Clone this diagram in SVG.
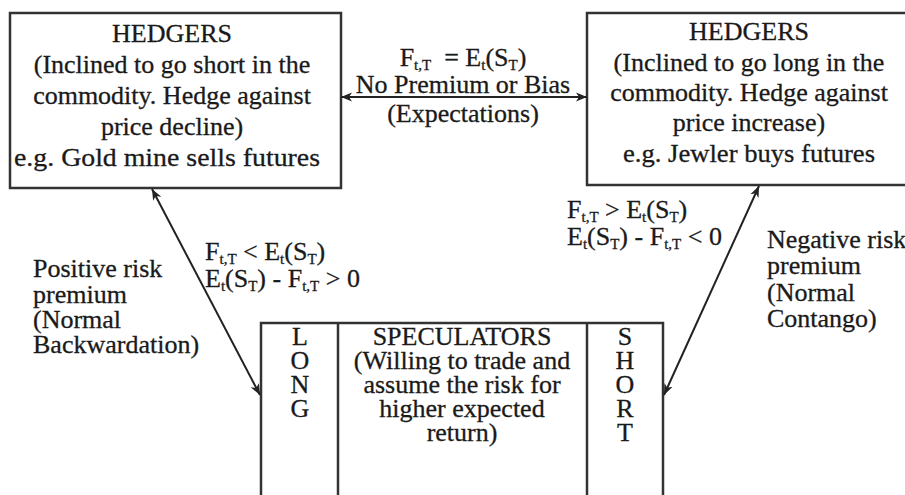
<svg xmlns="http://www.w3.org/2000/svg" width="905" height="495" viewBox="0 0 905 495">
<defs>
<marker id="ah" markerWidth="12" markerHeight="10" refX="11" refY="5" orient="auto-start-reverse" markerUnits="userSpaceOnUse">
<path d="M0,0.5 L11,5 L0,9.5 L3,5 Z" fill="#222"/>
</marker>
<style>
.box{fill:#fff;stroke:#333;stroke-width:2.5}
.t{font-family:"Liberation Serif","Times New Roman",serif;font-size:26px;fill:#1a1a1a;stroke:#1a1a1a;stroke-width:0.3}
.c{text-anchor:middle}
.s{font-size:15px}
.div{stroke:#333;stroke-width:2.5}
.conn{stroke:#222;stroke-width:2;fill:none;marker-start:url(#ah);marker-end:url(#ah)}
</style>
</defs>
<rect width="905" height="495" fill="#fff"/>

<g id="hedgers-short">
<rect class="box" x="10" y="13" width="331" height="175"/>
<text class="t c" x="172" y="42">HEDGERS</text>
<text class="t c" x="172" y="73">(Inclined to go short in the</text>
<text class="t c" x="172" y="104">commodity. Hedge against</text>
<text class="t c" x="172" y="135">price decline)</text>
<text class="t c" x="167" y="166" textLength="306" lengthAdjust="spacingAndGlyphs">e.g. Gold mine sells futures</text>
</g>

<g id="hedgers-long">
<rect class="box" x="587" y="13" width="330" height="172"/>
<text class="t c" x="749" y="40">HEDGERS</text>
<text class="t c" x="749" y="71">(Inclined to go long in the</text>
<text class="t c" x="749" y="101">commodity. Hedge against</text>
<text class="t c" x="749" y="131">price increase)</text>
<text class="t c" x="749" y="162" textLength="252" lengthAdjust="spacingAndGlyphs">e.g. Jewler buys futures</text>
</g>

<g id="speculators">
<rect class="box" x="261" y="323" width="402" height="180"/>
<line class="div" x1="338" y1="323" x2="338" y2="500"/>
<line class="div" x1="587" y1="323" x2="587" y2="500"/>
<text class="t c" x="300" y="345">L</text>
<text class="t c" x="300" y="369">O</text>
<text class="t c" x="300" y="393">N</text>
<text class="t c" x="300" y="417">G</text>
<text class="t c" x="462" y="345">SPECULATORS</text>
<text class="t c" x="462" y="369">(Willing to trade and</text>
<text class="t c" x="462" y="393">assume the risk for</text>
<text class="t c" x="462" y="417">higher expected</text>
<text class="t c" x="462" y="441">return)</text>
<text class="t c" x="625" y="345">S</text>
<text class="t c" x="625" y="369">H</text>
<text class="t c" x="625" y="393">O</text>
<text class="t c" x="625" y="417">R</text>
<text class="t c" x="625" y="441">T</text>
</g>

<g id="connectors">
<line class="conn" x1="341" y1="97" x2="587" y2="97"/>
<line class="conn" x1="152" y1="189" x2="260" y2="395"/>
<line class="conn" x1="759" y1="186" x2="664" y2="395"/>
</g>

<g id="label-expectations">
<text class="t c" x="463" y="66" xml:space="preserve">F<tspan class="s" dy="4">t,T</tspan><tspan dy="-4">  = E</tspan><tspan class="s" dy="4">t</tspan><tspan dy="-4">(S</tspan><tspan class="s" dy="4">T</tspan><tspan dy="-4">)</tspan></text>
<text class="t c" x="463" y="93">No Premium or Bias</text>
<text class="t c" x="463" y="122">(Expectations)</text>
</g>

<g id="label-backwardation">
<text class="t" x="205" y="260">F<tspan class="s" dy="4">t,T</tspan><tspan dy="-4"> &lt; E</tspan><tspan class="s" dy="4">t</tspan><tspan dy="-4">(S</tspan><tspan class="s" dy="4">T</tspan><tspan dy="-4">)</tspan></text>
<text class="t" x="205" y="287">E<tspan class="s" dy="4">t</tspan><tspan dy="-4">(S</tspan><tspan class="s" dy="4">T</tspan><tspan dy="-4">) - F</tspan><tspan class="s" dy="4">t,T</tspan><tspan dy="-4"> &gt; 0</tspan></text>
<text class="t" x="33" y="277">Positive risk</text>
<text class="t" x="33" y="303">premium</text>
<text class="t" x="33" y="328">(Normal</text>
<text class="t" x="33" y="353">Backwardation)</text>
</g>

<g id="label-contango">
<text class="t" x="567" y="218">F<tspan class="s" dy="4">t,T</tspan><tspan dy="-4"> &gt; E</tspan><tspan class="s" dy="4">t</tspan><tspan dy="-4">(S</tspan><tspan class="s" dy="4">T</tspan><tspan dy="-4">)</tspan></text>
<text class="t" x="567" y="245">E<tspan class="s" dy="4">t</tspan><tspan dy="-4">(S</tspan><tspan class="s" dy="4">T</tspan><tspan dy="-4">) - F</tspan><tspan class="s" dy="4">t,T</tspan><tspan dy="-4"> &lt; 0</tspan></text>
<text class="t" x="767" y="248">Negative risk</text>
<text class="t" x="767" y="274">premium</text>
<text class="t" x="767" y="301">(Normal</text>
<text class="t" x="767" y="327">Contango)</text>
</g>
</svg>
